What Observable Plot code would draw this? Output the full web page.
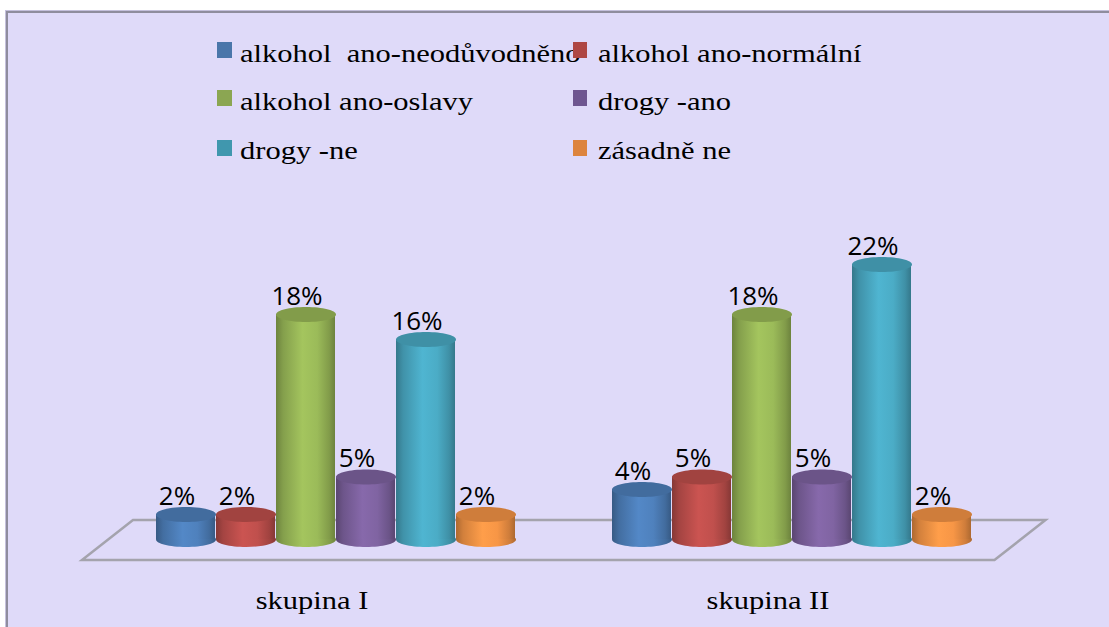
<!DOCTYPE html>
<html><head><meta charset="utf-8">
<script src="https://cdn.jsdelivr.net/npm/d3@7"></script>
<script src="https://cdn.jsdelivr.net/npm/@observablehq/plot@0.6"></script>
<style>
html,body{margin:0;padding:0;background:#fff;overflow:hidden;}
#wrap{position:relative;width:1109px;height:627px;overflow:hidden;}
#bg{position:absolute;left:6px;top:11px;width:1300px;height:800px;background:#DFDAF9;border-left:2px solid #8f8d9e;border-top:2px solid #8f8d9e;box-shadow:-1px -1px 0 #c4c0dc;}
#chart{position:absolute;left:0;top:0;}
#legend{position:absolute;left:0;top:0;width:1109px;height:180px;}
.sw{position:absolute;height:16px;}
.lt{position:absolute;font-family:"Liberation Serif",serif;font-size:25px;line-height:25px;height:25px;white-space:pre;color:#000;transform-origin:0 0;transform:scaleX(1.22);}
</style></head><body>
<div id="wrap"><div id="bg"></div><div id="chart"></div><div id="legend"></div></div>
<script>
const groups = ["skupina I", "skupina II"];
const series = ["alkohol  ano-neodůvodněno", "alkohol ano-normální", "alkohol ano-oslavy", "drogy -ano", "drogy -ne", "zásadně ne"];
const valuesSkupinaI = [2, 2, 18, 5, 16, 2];
const valuesSkupinaII = [4, 5, 18, 5, 22, 2];
const colors = ["#4F81BD", "#C0504D", "#9BBB59", "#8064A2", "#4BACC6", "#F79646"];
const legendColors = ["#4A76AA", "#AE4744", "#8BA652", "#6E5690", "#4097AE", "#DD843E"];

const groupValues = [valuesSkupinaI, valuesSkupinaII];
const data = groups.flatMap((g, gi) => series.map((s, si) => ({group: g, series: s, si, value: groupValues[gi][si]})));

const RX = 30, RY = 7.5, K = 0.5523;
const ellipse = {
  draw(ctx) {
    ctx.moveTo(RX, 0);
    ctx.bezierCurveTo(RX, RY * K, RX * K, RY, 0, RY);
    ctx.bezierCurveTo(-RX * K, RY, -RX, RY * K, -RX, 0);
    ctx.bezierCurveTo(-RX, -RY * K, -RX * K, -RY, 0, -RY);
    ctx.bezierCurveTo(RX * K, -RY, RX, -RY * K, RX, 0);
    ctx.closePath();
  }
};

const marks = [];
series.forEach((s, i) => {
  const d = data.filter(r => r.si === i);
  const top = d3.color(colors[i]).darker(0.5).formatHex();
  marks.push(
    Plot.dot(d, {fx: "group", x: "series", y: () => 0, symbol: ellipse, r: 5, fill: `url(#body${i})`, stroke: "none"}),
    Plot.barY(d, {fx: "group", x: "series", y: "value", fill: `url(#body${i})`, insetLeft: 0.5, insetRight: 0.5}),
    Plot.dot(d, {fx: "group", x: "series", y: "value", symbol: ellipse, r: 5, fill: top, stroke: "none"})
  );
});
marks.push(
  Plot.text(data, {fx: "group", x: "series", y: "value", text: d => d.value + "%", lineAnchor: "bottom", dy: -10, dx: -9,
    fontSize: 26, fontFamily: "'Open Sans', sans-serif", fill: "#000", letterSpacing: "-1px"}),
  Plot.text(groups, {fx: d => d, text: d => d, frameAnchor: "bottom", lineAnchor: "bottom", dy: 69, dx: -24,
    fontSize: 25, fontFamily: "'Liberation Serif', serif", fill: "#000"})
);

const chart = Plot.plot({
  width: 1109, height: 627,
  marginLeft: 107.5, marginRight: 89, marginTop: 264, marginBottom: 88,
  style: {background: "transparent", overflow: "visible"},
  facet: {marginTop: 0, marginBottom: 0, marginLeft: 0, marginRight: 0},
  fx: {domain: groups, paddingInner: 0.2, paddingOuter: 0.1, axis: null, label: null},
  x: {domain: series, padding: 0, axis: null},
  y: {domain: [0, 22], axis: null},
  marks
});

const svg = d3.select(chart);
const defs = svg.insert("defs", ":first-child");
colors.forEach((c, i) => {
  const base = d3.color(c);
  const g = defs.append("linearGradient").attr("id", `body${i}`).attr("x1", 0).attr("x2", 1).attr("y1", 0).attr("y2", 0);
  [[0, base.darker(1.0)], [0.12, base.darker(0.45)], [0.45, base.brighter(0.15)], [0.7, base], [0.9, base.darker(0.5)], [1, base.darker(1.0)]]
    .forEach(([o, col]) => g.append("stop").attr("offset", o).attr("stop-color", col.formatHex()));
});

// floor parallelogram derived from the plot frame
const y0 = 627 - 88, xl = 107.5, xr = 1109 - 89, sh = 25.5;
svg.insert("path", "defs + *")
  .attr("d", `M${xl + sh},${y0 - 19}L${xr + sh},${y0 - 19}L${xr - sh},${y0 + 21}L${xl - sh},${y0 + 21}Z`)
  .attr("fill", "none").attr("stroke", "#a4a3ad").attr("stroke-width", 2.5);

// stretch category labels horizontally like the original
svg.selectAll("text").each(function () {
  if (!groups.includes(this.textContent)) return;
  const x = parseFloat(this.getAttribute("x")) || 0, y = parseFloat(this.getAttribute("y")) || 0;
  const t = this.getAttribute("transform") || "";
  this.setAttribute("transform", `${t} translate(${x},${y}) scale(1.22,1) translate(${-x},${-y})`);
});

document.getElementById("chart").appendChild(chart);

// legend (HTML)
const legend = document.getElementById("legend");
const cols = [{sx: 217, sw: 15, tx: 240}, {sx: 573, sw: 14, tx: 598}];
const rows = [{top: 42, base: 62}, {top: 90, base: 110}, {top: 140, base: 159}];
series.forEach((s, i) => {
  const c = cols[i % 2], r = rows[Math.floor(i / 2)];
  const sw = document.createElement("div");
  sw.className = "sw";
  Object.assign(sw.style, {left: c.sx + "px", top: r.top + "px", width: c.sw + "px", background: legendColors[i]});
  legend.appendChild(sw);
  const t = document.createElement("div");
  t.className = "lt";
  t.textContent = s;
  Object.assign(t.style, {left: c.tx + "px", top: (r.base - 21) + "px"});
  legend.appendChild(t);
});
</script>
</body></html>
